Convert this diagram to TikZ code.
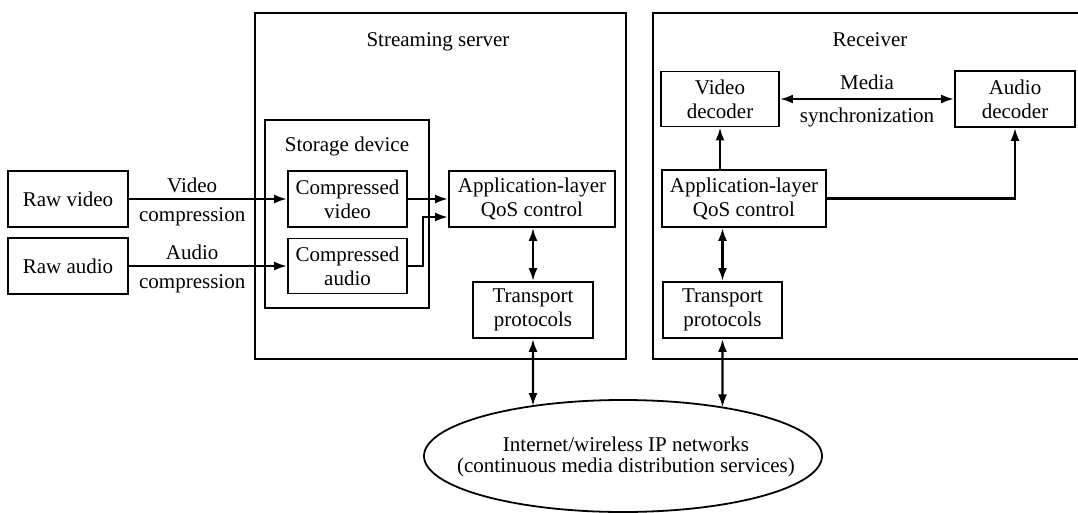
\documentclass[tikz,border=0pt]{standalone}
\usepackage{fontspec}
\setmainfont{Liberation Serif}
\usetikzlibrary{arrows.meta,calc,intersections}

\begin{document}
\begin{tikzpicture}[x=1pt,y=-1pt,
  every node/.style={font=\fontsize{21}{24}\selectfont},
  box/.style={draw, line width=1.8pt, align=center, inner sep=0pt},
  frame/.style={draw, line width=1.8pt},
  conn/.style={line width=2.4pt, -{Latex[length=13pt,width=9pt]}},
  biconn/.style={line width=2.4pt, {Latex[length=13pt,width=9pt]}-{Latex[length=13pt,width=9pt]}},
  lbl/.style={inner sep=0pt}
]
\useasboundingbox (0,0) rectangle (1078,513);
\clip (0,0) rectangle (1078,513);

% enclosing frames
\draw[frame] (255,13) rectangle (626,359);
\draw[frame] (653,13) rectangle (1100,359);
\draw[frame] (265,120) rectangle (429,308);
\node[lbl] (srvtitle) at (438,42) {Streaming server};
\node[lbl] (rcvtitle) at (870,40) {Receiver};
\node[lbl] (stotitle) at (347,146) {Storage device};

% sources
\node[box, minimum width=120pt, minimum height=56pt] (rawv) at (68,199) {Raw video};
\node[box, minimum width=120pt, minimum height=56pt] (rawa) at (68,266) {Raw audio};

% streaming server
\node[box, minimum width=119pt, minimum height=56pt] (cv) at (347.5,199) {Compressed\\video};
\node[box, minimum width=119pt, minimum height=55pt] (ca) at (347.5,266) {Compressed\\audio};
\node[box, minimum width=166pt, minimum height=56pt] (sqos) at (532,199) {Application-layer\\QoS control};
\node[box, minimum width=120pt, minimum height=56pt] (stp) at (533,310) {Transport\\protocols};

% receiver
\node[box, minimum width=118pt, minimum height=55pt] (vdec) at (720,99) {Video\\decoder};
\node[box, minimum width=120pt, minimum height=56pt] (adec) at (1015,99) {Audio\\decoder};
\node[box, minimum width=164pt, minimum height=57pt] (rqos) at (744,198.5) {Application-layer\\QoS control};
\node[box, minimum width=119pt, minimum height=56pt] (rtp) at (722.5,310) {Transport\\protocols};

% network cloud: outline and its text
\draw[frame, name path=netp] (623,456) ellipse [x radius=199pt, y radius=56pt];
\node[align=center, inner sep=0pt, font=\fontsize{21}{21}\selectfont] (net) at (626,457)
      {Internet/wireless IP networks\\(continuous media distribution services)};

% compression paths
\draw[conn] (rawv.east) -- (cv.west)
  node[pos=0.4, above=5pt, lbl] (vclbl1) {Video}
  node[pos=0.4, below=7pt, lbl] (vclbl2) {compression};
\draw[conn] (rawa.east) -- (ca.west)
  node[pos=0.4, above=5pt, lbl] (aclbl1) {Audio}
  node[pos=0.4, below=7pt, lbl] (aclbl2) {compression};

% storage to QoS control
\draw[conn] (cv.east) -- (sqos.west);
\draw[conn] (ca.east) -- ++(15,0) |- ([yshift=-18pt]sqos.west);
\draw[biconn] (sqos.south -| stp.north) -- (stp.north);

% receiver side
\draw[conn] (vdec.south |- rqos.north) -- (vdec.south);
\draw[conn] (rqos.east) -| (adec.south);
\draw[biconn] (rtp.north) -- (rtp.north |- rqos.south);
\draw[biconn] (vdec.east) -- (adec.west)
  node[midway, above=8pt, lbl] (synclbl1) {Media}
  node[midway, below=8pt, lbl] (synclbl2) {synchronization};

% transport layers to the network
\path[name path=sdown] (stp.south) -- ++(0,160);
\path[name path=rdown] (rtp.south) -- ++(0,160);
\draw[biconn, name intersections={of=sdown and netp, by=sx}] (stp.south) -- (sx);
\draw[biconn, name intersections={of=rdown and netp, by=rx}] (rtp.south) -- (rx);
\end{tikzpicture}
\end{document}
